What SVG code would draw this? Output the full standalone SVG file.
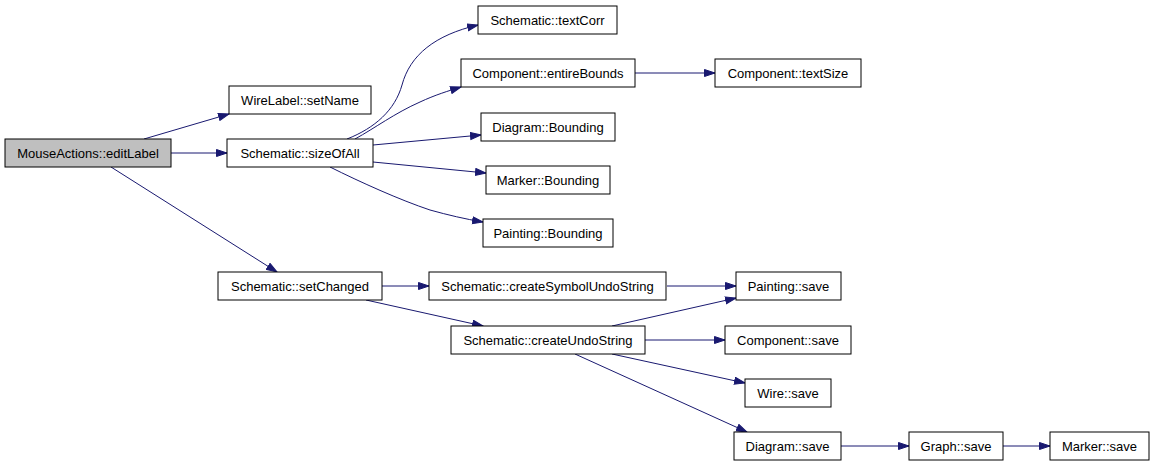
<svg xmlns="http://www.w3.org/2000/svg" width="1155" height="467" viewBox="0 0 1155 467">
<style>
.n rect{fill:#ffffff;stroke:#000000;stroke-width:1}
.n text{font-family:"Liberation Sans",Arial,sans-serif;font-size:13px;text-anchor:middle;fill:#000000}
.e path{fill:none;stroke:#191970;stroke-width:1}
</style>
<defs>
<marker id="a" markerUnits="userSpaceOnUse" markerWidth="14" markerHeight="10" refX="11" refY="4" orient="auto">
<path d="M0.5,0.5 L11,4 L0.5,7.5 Z" fill="#191970" stroke="#191970" stroke-width="1"/>
</marker>
</defs>
<rect width="1155" height="467" fill="#ffffff"/>
<g class="e" id="connectors">
<path marker-end="url(#a)" d="M144,139 L229,114"/>
<path marker-end="url(#a)" d="M171,153 L227,153"/>
<path marker-end="url(#a)" d="M111,167 L277,272"/>
<path marker-end="url(#a)" d="M347,139 C375,128 395,110 402,85 C410,55 435,35 478,25"/>
<path marker-end="url(#a)" d="M355,139 C375,128 395,113 420,102 C435,95 448,91 461,87"/>
<path marker-end="url(#a)" d="M373,145 L481,135"/>
<path marker-end="url(#a)" d="M373,162 L486,173"/>
<path marker-end="url(#a)" d="M330,167 C360,182 400,200 430,210 C448,215 465,219 483,222"/>
<path marker-end="url(#a)" d="M635,73 L715,73"/>
<path marker-end="url(#a)" d="M382,286 L429,286"/>
<path marker-end="url(#a)" d="M366,300 L483,326"/>
<path marker-end="url(#a)" d="M667,286 L736,286"/>
<path marker-end="url(#a)" d="M612,326 L736,298"/>
<path marker-end="url(#a)" d="M645,340 L725,340"/>
<path marker-end="url(#a)" d="M612,354 L745,383"/>
<path marker-end="url(#a)" d="M575,354 L747,432"/>
<path marker-end="url(#a)" d="M841,446 L909,446"/>
<path marker-end="url(#a)" d="M1003,446 L1050,446"/>
</g>
<g class="n" id="editLabel"><rect x="5" y="139" width="166" height="28" style="fill:#bfbfbf"/><text x="88" y="158">MouseActions::editLabel</text></g>
<g class="n" id="setName"><rect x="229" y="86" width="142" height="28"/><text x="300" y="105">WireLabel::setName</text></g>
<g class="n" id="sizeOfAll"><rect x="227" y="139" width="146" height="28"/><text x="300" y="158">Schematic::sizeOfAll</text></g>
<g class="n" id="setChanged"><rect x="218" y="272" width="164" height="28"/><text x="300" y="291">Schematic::setChanged</text></g>
<g class="n" id="textCorr"><rect x="478" y="6" width="139" height="28"/><text x="547.5" y="25">Schematic::textCorr</text></g>
<g class="n" id="entireBounds"><rect x="461" y="59" width="174" height="28"/><text x="548" y="78">Component::entireBounds</text></g>
<g class="n" id="diagramBounding"><rect x="481" y="113" width="134" height="28"/><text x="548" y="132">Diagram::Bounding</text></g>
<g class="n" id="markerBounding"><rect x="486" y="166" width="124" height="28"/><text x="548" y="185">Marker::Bounding</text></g>
<g class="n" id="paintingBounding"><rect x="483" y="219" width="130" height="28"/><text x="548" y="238">Painting::Bounding</text></g>
<g class="n" id="textSize"><rect x="715" y="59" width="146" height="28"/><text x="788" y="78">Component::textSize</text></g>
<g class="n" id="createSymbolUndoString"><rect x="429" y="272" width="237" height="28"/><text x="547.5" y="291">Schematic::createSymbolUndoString</text></g>
<g class="n" id="createUndoString"><rect x="451" y="326" width="194" height="28"/><text x="548" y="345">Schematic::createUndoString</text></g>
<g class="n" id="paintingSave"><rect x="736" y="272" width="105" height="28"/><text x="788.5" y="291">Painting::save</text></g>
<g class="n" id="componentSave"><rect x="725" y="326" width="126" height="28"/><text x="788" y="345">Component::save</text></g>
<g class="n" id="wireSave"><rect x="745" y="379" width="86" height="28"/><text x="788" y="398">Wire::save</text></g>
<g class="n" id="diagramSave"><rect x="734" y="432" width="107" height="28"/><text x="787.5" y="451">Diagram::save</text></g>
<g class="n" id="graphSave"><rect x="909" y="432" width="94" height="28"/><text x="956" y="451">Graph::save</text></g>
<g class="n" id="markerSave"><rect x="1050" y="432" width="99" height="28"/><text x="1099.5" y="451">Marker::save</text></g>
</svg>
